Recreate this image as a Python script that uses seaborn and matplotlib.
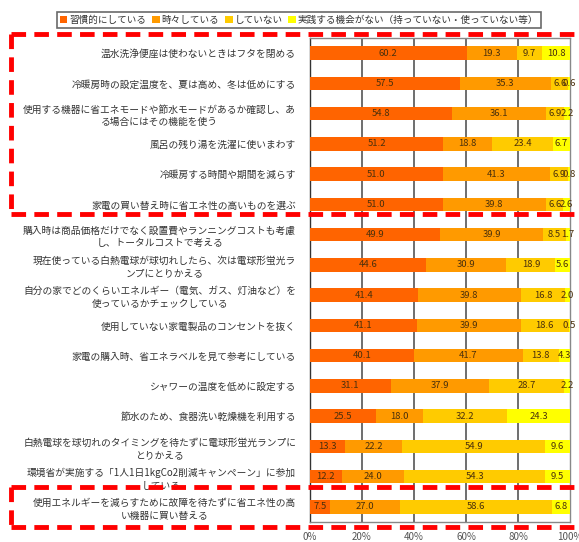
import numpy as np
import pandas as pd
import matplotlib
matplotlib.use("Agg")
import matplotlib.pyplot as plt
import seaborn as sns
from matplotlib.patches import Patch
from matplotlib.lines import Line2D

sns.set_style("white")
plt.rcParams['font.family'] = ['Noto Sans CJK JP', 'DejaVu Sans']

categories = [
    "温水洗浄便座は使わないときはフタを閉める",
    "冷暖房時の設定温度を、夏は高め、冬は低めにする",
    "使用する機器に省エネモードや節水モードがあるか確認し、あ\nる場合にはその機能を使う",
    "風呂の残り湯を洗濯に使いまわす",
    "冷暖房する時間や期間を減らす",
    "家電の買い替え時に省エネ性の高いものを選ぶ",
    "購入時は商品価格だけでなく設置費やランニングコストも考慮\nし、トータルコストで考える",
    "現在使っている白熱電球が球切れしたら、次は電球形蛍光ラ\nンプにとりかえる",
    "自分の家でどのくらいエネルギー（電気、ガス、灯油など）を\n使っているかチェックしている",
    "使用していない家電製品のコンセントを抜く",
    "家電の購入時、省エネラベルを見て参考にしている",
    "シャワーの温度を低めに設定する",
    "節水のため、食器洗い乾燥機を利用する",
    "白熱電球を球切れのタイミングを待たずに電球形蛍光ランプに\nとりかえる",
    "環境省が実施する「1人1日1kgCo2削減キャンペーン」に参加\nしている",
    "使用エネルギーを減らすために故障を待たずに省エネ性の高\nい機器に買い替える",
]
series_names = ["習慣的にしている", "時々している", "していない",
                "実践する機会がない（持っていない・使っていない等）"]
habitual = [60.2, 57.5, 54.8, 51.2, 51.0, 51.0, 49.9, 44.6, 41.4, 41.1, 40.1, 31.1, 25.5, 13.3, 12.2, 7.5]
sometimes = [19.3, 35.3, 36.1, 18.8, 41.3, 39.8, 39.9, 30.9, 39.8, 39.9, 41.7, 37.9, 18.0, 22.2, 24.0, 27.0]
not_doing = [9.7, 6.6, 6.9, 23.4, 6.9, 6.6, 8.5, 18.9, 16.8, 18.6, 13.8, 28.7, 32.2, 54.9, 54.3, 58.6]
no_chance = [10.8, 0.6, 2.2, 6.7, 0.8, 2.6, 1.7, 5.6, 2.0, 0.5, 4.3, 2.2, 24.3, 9.6, 9.5, 6.8]
x_ticks = [0, 20, 40, 60, 80, 100]
x_ticklabels = ["0%", "20%", "40%", "60%", "80%", "100%"]

colors = ["#FF6400", "#FF9A00", "#FFCB00", "#FFFF00"]
series = [habitual, sometimes, not_doing, no_chance]

W, H = 579, 542
fig = plt.figure(figsize=(W / 100, H / 100), dpi=100)
ax = fig.add_axes([310 / W, 1 - 522 / H, 260 / W, (522 - 38) / H])

cum = np.zeros(len(categories))
cums = []
for s in series:
    cum = cum + np.array(s)
    cums.append(cum.copy())

# draw from the largest cumulative down so earlier series sit on top
for i in range(3, -1, -1):
    d = pd.DataFrame({"cat": categories, "val": cums[i]})
    sns.barplot(data=d, x="val", y="cat", orient="h", color=colors[i],
                saturation=1, width=0.45, ax=ax, zorder=3, linewidth=0)

# value labels
for r in range(len(categories)):
    left = 0.0
    for s in series:
        v = s[r]
        ax.text(left + v / 2, r, f"{v:.1f}", ha="center", va="center",
                fontsize=6.8, color="#4a300c", zorder=5)
        left += v

ax.set_xlim(0, 100)
ax.set_ylim(len(categories) - 0.5, -0.5)
ax.set_xticks(x_ticks)
ax.set_xticklabels(x_ticklabels, fontsize=7, color="#555555")
ax.tick_params(axis="x", length=0, pad=7)
ax.set_xlabel("")
ax.set_ylabel("")
ax.set_yticks(range(len(categories)))
ax.set_yticklabels(categories, fontsize=7.0, color="#333333", linespacing=1.35)
for t in ax.get_yticklabels():
    t.set_multialignment("center")
ax.tick_params(axis="y", length=0, pad=10)
ax.set_yticks(np.arange(0.5, len(categories) - 0.5, 1), minor=True)
ax.tick_params(axis="y", which="minor", length=4, width=1, color="#333333", direction="out")
for xv in x_ticks[1:-1]:
    ax.axvline(xv, color="#555555", lw=1.2, zorder=1)
for sp in ax.spines.values():
    sp.set_color("#888888")
    sp.set_linewidth(1)
ax.spines["left"].set_color("#333333")

# legend
handles = [Patch(facecolor=c, edgecolor="none") for c in colors]
leg = fig.legend(handles, series_names, loc="center", ncol=4,
                 bbox_to_anchor=(299 / W, 1 - 20 / H), fontsize=6.9,
                 handlelength=0.8, handleheight=0.8, handletextpad=0.2,
                 columnspacing=0.6, borderpad=0.3, fancybox=False,
                 frameon=True, edgecolor="#444444")
leg.get_frame().set_linewidth(1.2)
for t in leg.get_texts():
    t.set_color("#333333")

# red dashed highlight boxes
def fx(x):
    return x / W

def fy(y):
    return 1 - y / H

dash_kw = dict(color="#FF0000", lw=3.5, linestyle=(0, (3.0, 1.7)), zorder=10,
               transform=fig.transFigure, solid_capstyle="butt", dash_capstyle="butt")
for (top, bot) in [(34, 214), (487, 527)]:
    fig.add_artist(Line2D([fx(11), fx(579)], [fy(top), fy(top)], **dash_kw))
    fig.add_artist(Line2D([fx(11), fx(579)], [fy(bot), fy(bot)], **dash_kw))
    fig.add_artist(Line2D([fx(11), fx(11)], [fy(top), fy(bot)], **dash_kw))

fig.savefig("out.png", dpi=100)
